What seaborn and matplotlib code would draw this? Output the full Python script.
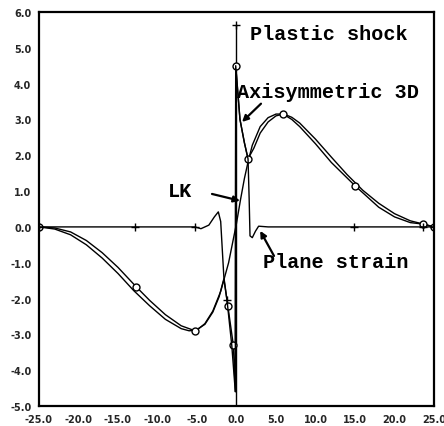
import numpy as np
import pandas as pd
import matplotlib
matplotlib.use("Agg")
import matplotlib.pyplot as plt
import seaborn as sns

# Plastic shock: jump at the origin
shock_x = [0.0, 0.0]
shock_y = [-5.0, 5.65]

# LK solution (smooth)
lk_x = [-25, -23, -21, -19, -17, -15, -13, -11, -9, -7, -6, -5, -4, -3, -2, -1,
        0, 0.5, 1, 1.5, 2, 3, 4, 5, 6, 7, 8, 10, 12, 14, 16, 18, 20, 22, 24, 25]
lk_y = [0.0, -0.06, -0.22, -0.5, -0.87, -1.3, -1.78, -2.2, -2.58, -2.84, -2.9, -2.88,
        -2.7, -2.35, -1.8, -1.0, 0.1, 0.75, 1.35, 1.85, 2.28, 2.8, 3.05, 3.15, 3.15,
        3.06, 2.9, 2.45, 1.95, 1.46, 1.02, 0.66, 0.37, 0.17, 0.06, 0.0]

# Axisymmetric 3D solution
ax3d_x = [-25, -23, -21, -19, -17, -15, -12.7, -11, -9, -7, -5.25, -4, -3, -2.2,
          -1.6, -1.1, -0.4, -0.15, -0.1, 0.44, 1.0, 1.46, 2.2, 3, 4, 5, 5.9, 7, 8,
          10, 12, 15, 18, 20, 22, 23.6, 25]
ax3d_y = [0.0, -0.03, -0.14, -0.38, -0.72, -1.13, -1.67, -2.05, -2.45, -2.76, -2.9,
          -2.72, -2.38, -1.95, -1.45, -2.2, -3.3, -4.6, 4.5, 3.0, 2.35, 1.9, 2.2, 2.62,
          2.93, 3.1, 3.15, 3.0, 2.8, 2.32, 1.8, 1.15, 0.55, 0.28, 0.12, 0.08, 0.0]
ax3d_marks = [-25, -12.7, -5.25, -1.1, -0.4, -0.1, 1.46, 5.9, 15, 23.6, 25]

# Plane strain solution
ps_x = [-25, -20, -15, -12.85, -10, -7, -5.25, -4.5, -3.5, -2.8, -2.3, -2.0, -1.6,
        -1.2, -0.6, -0.15, -0.1, 0.44, 1.0, 1.46, 1.6, 1.71, 2.0, 2.4, 2.8, 4, 8,
        14.9, 20, 23.6, 25]
ps_y = [0.0, 0.0, 0.0, 0.0, 0.0, 0.0, 0.0, -0.05, 0.05, 0.28, 0.42, 0.15, -1.4,
        -2.05, -3.3, -4.6, 4.5, 3.0, 2.35, 1.9, 0.8, -0.25, -0.3, -0.12, 0.02, 0.0,
        0.0, 0.0, 0.0, 0.0, 0.0]
ps_marks = [-25, -12.85, -5.25, -1.2, 14.9, 23.6, 25]

x_ticks = [-25, -20, -15, -10, -5, 0, 5, 10, 15, 20, 25]
y_ticks = [-5, -4, -3, -2, -1, 0, 1, 2, 3, 4, 5, 6]

sns.set_style("white")
plt.rcParams["font.family"] = ["DejaVu Sans"]

fig = plt.figure(figsize=(4.44, 4.27), dpi=100)
ax = fig.add_axes([0.0878, 0.0468, 0.8897, 0.9228])


def idx(xs, marks):
    return [xs.index(m) for m in marks]


line_kw = dict(color="black", linewidth=1.0, sort=False, estimator=None, ax=ax, legend=False)
mark_kw = dict(markeredgecolor="black", markeredgewidth=1.0)

sns.lineplot(x=shock_x, y=shock_y, marker="+", markevery=[1], markersize=6,
             **mark_kw, **line_kw)
sns.lineplot(x=lk_x, y=lk_y, **line_kw)
sns.lineplot(x=ax3d_x, y=ax3d_y, marker="o", markevery=idx(ax3d_x, ax3d_marks),
             markersize=5, markerfacecolor="white", **mark_kw, **line_kw)
sns.lineplot(x=ps_x, y=ps_y, marker="+", markevery=idx(ps_x, ps_marks),
             markersize=5.5, **mark_kw, **line_kw)

ax.set_xlim(-25, 25)
ax.set_ylim(-5, 6)
ax.set_xticks(x_ticks)
ax.set_yticks(y_ticks)
ax.set_xticklabels([f"{v:.1f}" for v in x_ticks])
ax.set_yticklabels([f"{v:.1f}" for v in y_ticks])
ax.tick_params(axis="both", direction="out", length=4, width=1.2, labelsize=7,
               color="black", pad=1.5)
for lab in ax.get_xticklabels() + ax.get_yticklabels():
    lab.set_fontweight("bold")
for sp in ax.spines.values():
    sp.set_linewidth(1.6)
    sp.set_color("black")

txt_kw = dict(family="Liberation Mono", fontweight="bold", fontsize=14.5,
              color="black", va="baseline", ha="left")
ax.text(1.7, 5.25, "Plastic shock", **txt_kw)
ax.text(0.06, 3.63, "Axisymmetric 3D", **txt_kw)
ax.text(-8.67, 0.87, "LK", **txt_kw)
ax.text(3.35, -1.12, "Plane strain", **txt_kw)

arrow = dict(arrowstyle="-|>", color="black", lw=1.6, mutation_scale=9,
             shrinkA=0, shrinkB=0)
ax.annotate("", xy=(0.44, 0.73), xytext=(-3.1, 0.92), arrowprops=arrow)
ax.annotate("", xy=(0.7, 2.93), xytext=(3.1, 3.44), arrowprops=arrow)
ax.annotate("", xy=(3.0, -0.11), xytext=(4.75, -0.81), arrowprops=arrow)

fig.savefig("out.png", dpi=100)
